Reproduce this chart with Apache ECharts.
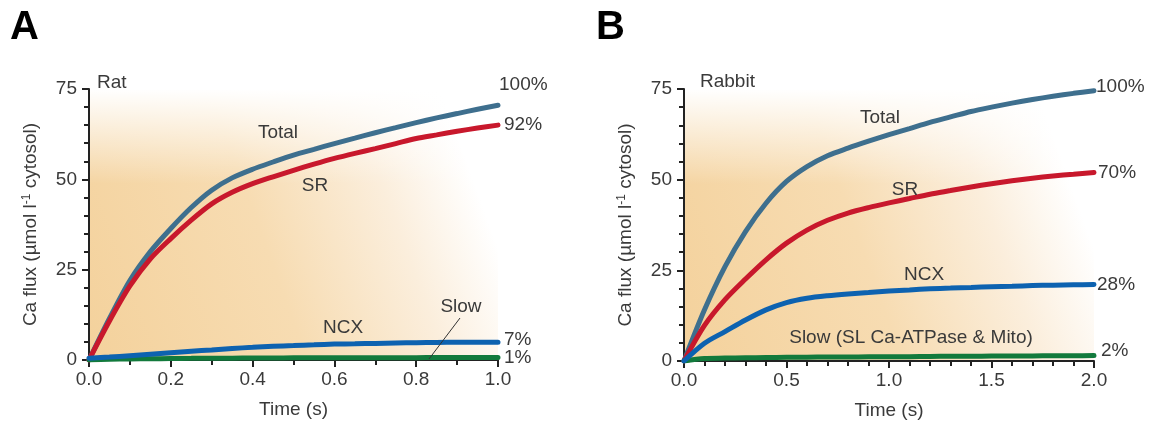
<!DOCTYPE html>
<html>
<head>
<meta charset="utf-8">
<script src="https://cdn.jsdelivr.net/npm/echarts@6/dist/echarts.min.js"></script>
<style>
  html, body { margin: 0; padding: 0; background: #fff; }
  #chart { width: 1154px; height: 426px; }
</style>
</head>
<body>
<div id="chart"></div>
<script>
// Rat myocyte Ca removal fluxes (µmol/l cytosol), sampled every 0.05 s
const ratTime  = [0, 0.05, 0.1, 0.15, 0.2, 0.25, 0.3, 0.35, 0.4, 0.45, 0.5, 0.55, 0.6, 0.65, 0.7, 0.75, 0.8, 0.85, 0.9, 0.95, 1.0];
const ratTotal = [0, 11.5, 22, 30, 36.4, 42.2, 47, 50.4, 52.8, 54.8, 56.7, 58.3, 59.9, 61.4, 62.9, 64.3, 65.7, 67, 68.2, 69.4, 70.5];
const ratSR    = [0, 10.8, 20.5, 28, 33.6, 38.7, 43.2, 46.4, 48.8, 50.7, 52.5, 54.2, 55.8, 57.2, 58.5, 59.9, 61.3, 62.3, 63.3, 64.2, 65];
const ratNCX   = [0.5, 0.8, 1.2, 1.6, 2.0, 2.4, 2.8, 3.2, 3.5, 3.8, 4.0, 4.2, 4.4, 4.5, 4.6, 4.7, 4.8, 4.85, 4.9, 4.9, 4.9];
const ratSlow  = [0, 0.2, 0.3, 0.35, 0.4, 0.45, 0.5, 0.5, 0.55, 0.55, 0.6, 0.6, 0.6, 0.65, 0.65, 0.65, 0.65, 0.7, 0.7, 0.7, 0.7];

// Rabbit myocyte Ca removal fluxes, sampled every 0.1 s
const rabbitTime  = [0, 0.1, 0.2, 0.3, 0.4, 0.5, 0.6, 0.7, 0.8, 0.9, 1.0, 1.1, 1.2, 1.3, 1.4, 1.5, 1.6, 1.7, 1.8, 1.9, 2.0];
const rabbitTotal = [0, 14.1, 26, 35.7, 43.5, 49.5, 53.6, 56.6, 58.7, 60.6, 62.4, 64.1, 65.8, 67.3, 68.8, 70, 71.1, 72.1, 73, 73.8, 74.5];
const rabbitSR    = [0, 9.8, 16.9, 22.6, 27.9, 32.5, 36.1, 38.8, 40.8, 42.3, 43.6, 44.8, 46, 47, 48, 48.9, 49.7, 50.4, 51, 51.5, 52];
const rabbitNCX   = [0, 4.9, 8.1, 11.3, 14.1, 16.1, 17.3, 18, 18.5, 18.9, 19.3, 19.6, 19.9, 20.1, 20.3, 20.5, 20.6, 20.8, 20.9, 21, 21.1];
const rabbitSlow  = [0, 0.7, 0.8, 0.9, 0.95, 1.0, 1.05, 1.1, 1.1, 1.15, 1.2, 1.2, 1.25, 1.3, 1.3, 1.35, 1.35, 1.4, 1.45, 1.45, 1.5];

const yTicks = [0, 25, 50, 75];

const FONT = '"Liberation Sans", Arial, sans-serif';
const TEXT = '#3a3a3a';
const COLORS = { total: '#3e6f8e', sr: '#c8182c', ncx: '#0d62b0', slow: '#127a3c' };

const pairs = (t, v) => t.map((x, i) => [x, v[i]]);
const pct = (arr, total) => Math.round(arr[arr.length - 1] / total[total.length - 1] * 100) + '%';

const G = [
  { left: 89, top: 89, width: 409, height: 271 },
  { left: 684, top: 89, width: 410, height: 272 }
];

function bgGradient() {
  return {
    type: 'linear', x: 0, y: 0.9, x2: 1, y2: 0.35,
    colorStops: [
      { offset: 0, color: '#f4d29d' },
      { offset: 0.45, color: '#f7dcb2' },
      { offset: 0.75, color: '#fbeedc' },
      { offset: 0.95, color: '#ffffff' }
    ]
  };
}

function yAxis(gi) {
  return {
    gridIndex: gi, type: 'value', min: 0, max: 75, interval: 25,
    splitLine: { show: false },
    axisLine: { show: true, lineStyle: { color: '#222', width: 2 } },
    axisTick: { show: true, length: 7, lineStyle: { color: '#222', width: 2 } },
    minorTick: { show: true, splitNumber: 5, length: 5, lineStyle: { color: '#222', width: 2 } },
    axisLabel: {
      color: TEXT, fontSize: 19, fontFamily: FONT, margin: 12,
      formatter: v => (yTicks.includes(v) ? String(v) : '')
    },
    name: '{a|Ca flux (µmol l}{s|-1}{a| cytosol)}',
    nameLocation: 'middle', nameGap: 48, nameRotate: 90,
    nameTextStyle: {
      rich: {
        a: { color: TEXT, fontSize: 19, fontFamily: FONT },
        s: { color: TEXT, fontSize: 12, fontFamily: FONT, verticalAlign: 'top', padding: [0, 0, 8, 0] }
      }
    }
  };
}

function xAxis(gi, max, interval, minor) {
  return {
    gridIndex: gi, type: 'value', min: 0, max: max, interval: interval,
    splitLine: { show: false },
    axisLine: { show: true, lineStyle: { color: '#222', width: 2 } },
    axisTick: { show: true, length: 7, lineStyle: { color: '#222', width: 2 } },
    minorTick: { show: true, splitNumber: minor, length: 5, lineStyle: { color: '#222', width: 2 } },
    axisLabel: { color: TEXT, fontSize: 19, fontFamily: FONT, margin: 10, formatter: v => v.toFixed(1) },
    name: 'Time (s)', nameLocation: 'middle', nameGap: 40,
    nameTextStyle: { color: TEXT, fontSize: 19, fontFamily: FONT }
  };
}

// z keeps SR drawn over Total and NCX over everything where the traces meet at the origin
function line(gi, t, v, color, label, offset, z) {
  return {
    type: 'line', xAxisIndex: gi, yAxisIndex: gi,
    data: pairs(t, v), showSymbol: false, smooth: 0.3,
    lineStyle: { color: color, width: 5, cap: 'round' },
    z: z, silent: true,
    endLabel: {
      show: true, formatter: label, offset: offset, distance: 4,
      color: TEXT, fontSize: 19, fontFamily: FONT
    }
  };
}

function txt(x, y, s, align) {
  return {
    type: 'text', x: x, y: y, z: 20,
    style: { text: s, fill: TEXT, font: '19px ' + FONT, textAlign: align || 'center', textVerticalAlign: 'middle' }
  };
}

function topFade(g) {
  return {
    type: 'rect', z: 1, silent: true,
    shape: { x: g.left + 1, y: g.top, width: g.width - 1, height: g.height * 0.35 },
    style: {
      fill: {
        type: 'linear', x: 0, y: 0, x2: 0, y2: 1,
        colorStops: [
          { offset: 0, color: 'rgba(255,255,255,1)' },
          { offset: 1, color: 'rgba(255,255,255,0)' }
        ]
      }
    }
  };
}

const chart = echarts.init(document.getElementById('chart'), null, { renderer: 'canvas' });

chart.setOption({
  backgroundColor: '#ffffff',
  animation: false,
  grid: G.map(g => Object.assign({ show: true, borderWidth: 0, backgroundColor: bgGradient() }, g)),
  xAxis: [xAxis(0, 1, 0.2, 2), xAxis(1, 2, 0.5, 5)],
  yAxis: [yAxis(0), yAxis(1)],
  series: [
    line(0, ratTime, ratTotal, COLORS.total, pct(ratTotal, ratTotal), [-3, -20], 3),
    line(0, ratTime, ratSR, COLORS.sr, pct(ratSR, ratTotal), [2, 0], 4),
    line(0, ratTime, ratSlow, COLORS.slow, pct(ratSlow, ratTotal), [2, 0], 5),
    line(0, ratTime, ratNCX, COLORS.ncx, pct(ratNCX, ratTotal), [2, -3], 6),
    line(1, rabbitTime, rabbitTotal, COLORS.total, pct(rabbitTotal, rabbitTotal), [-2, -4], 3),
    line(1, rabbitTime, rabbitSR, COLORS.sr, pct(rabbitSR, rabbitTotal), [0, 0], 4),
    line(1, rabbitTime, rabbitSlow, COLORS.slow, pct(rabbitSlow, rabbitTotal), [3, -5], 5),
    line(1, rabbitTime, rabbitNCX, COLORS.ncx, pct(rabbitNCX, rabbitTotal), [-1, 0], 6)
  ],
  graphic: [
    topFade(G[0]), topFade(G[1]),
    { type: 'text', x: 10, y: 28, z: 20, style: { text: 'A', fill: '#000', font: 'bold 40px ' + FONT, textVerticalAlign: 'middle' } },
    { type: 'text', x: 596, y: 28, z: 20, style: { text: 'B', fill: '#000', font: 'bold 40px ' + FONT, textVerticalAlign: 'middle' } },
    txt(97, 83, 'Rat', 'left'),
    txt(700, 82, 'Rabbit', 'left'),
    txt(278, 133, 'Total'),
    txt(315, 186, 'SR'),
    txt(343, 328, 'NCX'),
    txt(461, 307, 'Slow'),
    { type: 'line', z: 20, shape: { x1: 460, y1: 318, x2: 429, y2: 359 }, style: { stroke: '#333', lineWidth: 1 } },
    txt(880, 118, 'Total'),
    txt(905, 190, 'SR'),
    txt(924, 275, 'NCX'),
    txt(911, 338, 'Slow (SL Ca-ATPase & Mito)')
  ]
});
</script>
</body>
</html>
